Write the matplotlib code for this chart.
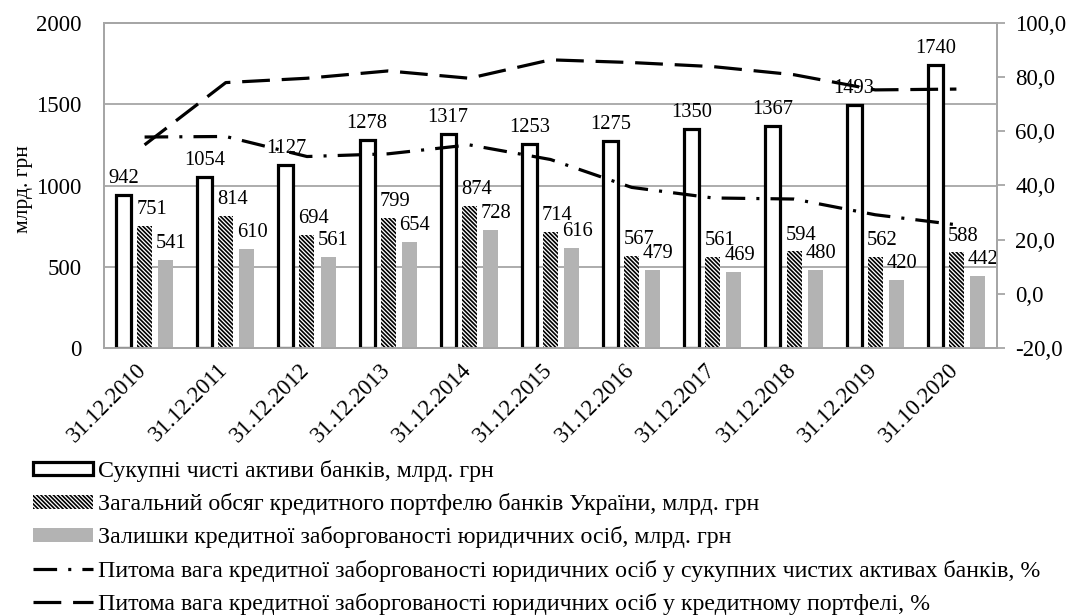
import matplotlib
matplotlib.use("Agg")
import matplotlib.pyplot as plt
import matplotlib.transforms as mtransforms
import numpy as np
from matplotlib.ticker import FuncFormatter

categories = ['31.12.2010', '31.12.2011', '31.12.2012', '31.12.2013', '31.12.2014',
              '31.12.2015', '31.12.2016', '31.12.2017', '31.12.2018', '31.12.2019',
              '31.10.2020']
assets = [942, 1054, 1127, 1278, 1317, 1253, 1275, 1350, 1367, 1493, 1740]
portfolio = [751, 814, 694, 799, 874, 714, 567, 561, 594, 562, 588]
legal_loans = [541, 610, 561, 654, 728, 616, 479, 469, 480, 420, 442]
share_in_assets = [57.9, 58.1, 50.7, 51.7, 55.0, 49.6, 39.3, 35.4, 35.0, 29.2, 25.5]
share_in_portfolio = [55.0, 78.0, 79.6, 82.3, 79.6, 86.4, 85.4, 83.9, 80.9, 75.3, 75.6]

labels = ['Сукупні чисті активи банків, млрд. грн',
          'Загальний обсяг кредитного портфелю банків України, млрд. грн',
          'Залишки кредитної заборгованості юридичних осіб, млрд. грн',
          'Питома вага кредитної заборгованості юридичних осіб у сукупних чистих активах банків, %',
          'Питома вага кредитної заборгованості юридичних осіб у кредитному портфелі, %']

plt.rcParams['font.family'] = ['Liberation Serif', 'DejaVu Serif']
plt.rcParams['hatch.linewidth'] = 1.2
plt.rcParams['hatch.color'] = 'black'
plt.rcParams['lines.scale_dashes'] = False

W, H = 1075, 616
fig = plt.figure(figsize=(W / 100, H / 100), dpi=100)
L, R, T, B = 104, 997, 23, 348
ax = fig.add_axes([L / W, 1 - B / H, (R - L) / W, (B - T) / H])
ax2 = ax.twinx()

x = np.arange(len(categories))
bw = 0.185
off = 0.26
gridc = '#a6a6a6'

b1 = ax.bar(x - off, assets, bw, facecolor='white', edgecolor='black', linewidth=2.3, zorder=3,
            label=labels[0])
b2 = ax.bar(x, portfolio, bw, facecolor='white', edgecolor='black', hatch='\\' * 8, linewidth=0,
            zorder=3, label=labels[1])
b3 = ax.bar(x + off, legal_loans, bw, facecolor='#b3b3b3', edgecolor='none', zorder=3,
            label=labels[2])

fs_val = 14.8
for xi, v in zip(x, assets):
    ax.annotate(str(v), (xi - off, v), xytext=(0, 5), textcoords='offset points',
                ha='center', va='bottom', fontsize=fs_val, zorder=5)
for xi, v in zip(x, portfolio):
    ax.annotate(str(v), (xi, v), xytext=(5, 5), textcoords='offset points',
                ha='center', va='bottom', fontsize=fs_val, zorder=5)
for xi, v in zip(x, legal_loans):
    ax.annotate(str(v), (xi + off, v), xytext=(4, 5), textcoords='offset points',
                ha='center', va='bottom', fontsize=fs_val, zorder=5)

l1, = ax2.plot(x, share_in_assets, color='black', linewidth=2.3, zorder=4,
               dashes=(17, 8, 2.2, 8), dash_capstyle='butt', label=labels[3])
l2, = ax2.plot(x, share_in_portfolio, color='black', linewidth=2.3, zorder=4,
               dashes=(20, 8.5), dash_capstyle='butt', label=labels[4])

ax.set_xlim(-0.5, len(categories) - 0.5)
ax.set_ylim(0, 2000)
ax.set_yticks([0, 500, 1000, 1500, 2000])
ax.yaxis.grid(True, color=gridc, linewidth=1.3)
ax.set_axisbelow(True)
ax.tick_params(axis='y', length=0, pad=16, labelsize=16.5)
ax.set_xticks(x)
ax.set_xticklabels(categories, rotation=45, ha='right', rotation_mode='anchor', fontsize=16.5)
ax.tick_params(axis='x', length=0, pad=8)
shift = mtransforms.ScaledTranslation(-6 / 72, 0, fig.dpi_scale_trans)
for lab in ax.get_xticklabels():
    lab.set_transform(lab.get_transform() + shift)

ax2.set_ylim(-20, 100)
ax2.set_yticks([-20, 0, 20, 40, 60, 80, 100])
ax2.yaxis.set_major_formatter(FuncFormatter(lambda v, p: f'{v:.1f}'.replace('.', ',')))
ax2.tick_params(axis='y', length=6, width=1.3, color=gridc, pad=7, labelsize=16.5)

for a in (ax, ax2):
    for s in a.spines.values():
        s.set_color(gridc)
        s.set_linewidth(1.3)
ax2.set_zorder(ax.get_zorder() + 1)
ax2.patch.set_visible(False)

ax.set_ylabel('млрд. грн', fontsize=15.5)
ax.yaxis.set_label_coords(-0.0795, 0.49)

fig.legend(handles=[b1, b2, b3, l1, l2], labels=labels, loc='upper left',
           bbox_to_anchor=(33 / W, 1 - 460 / H), frameon=False, fontsize=17.2,
           handlelength=2.5, handleheight=0.5, handletextpad=0.2, labelspacing=0.47,
           borderaxespad=0, borderpad=0)

fig.savefig('out.png', dpi=100)
